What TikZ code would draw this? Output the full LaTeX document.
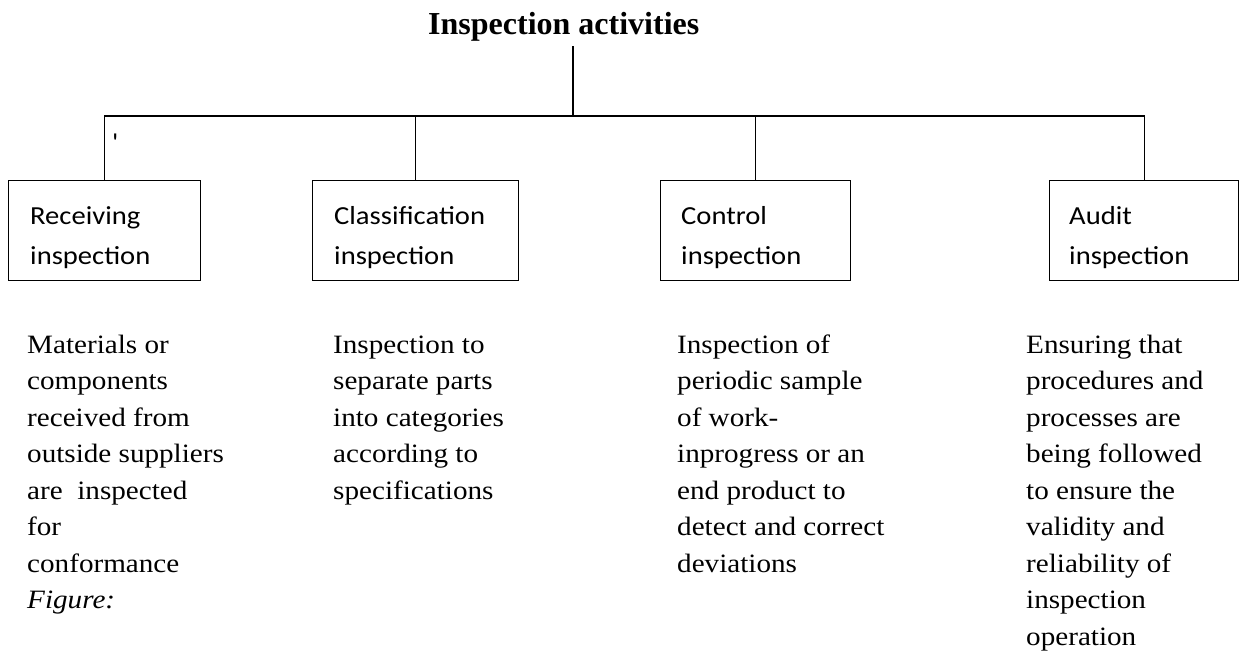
\documentclass[tikz,border=0pt]{standalone}
\usepackage{fontspec}
\usetikzlibrary{calc}
\setmainfont{Liberation Serif}
\newfontfamily\boxfont[FakeStretch=1.1]{Carlito}
\newfontfamily\descfont[FakeStretch=1.1]{Liberation Serif}

\begin{document}
\begin{tikzpicture}[x=1pt, y=-1pt,
  link/.style={line width=1.3pt, black},
  catbox/.style={draw, line width=1.3pt, inner sep=0pt, anchor=north west},
  boxtext/.style={font=\boxfont\fontsize{26}{40}\selectfont, align=left, inner sep=0pt, anchor=base west},
  desc/.style={font=\descfont\fontsize{26.5}{36.5}\selectfont, align=left, inner sep=0pt, anchor=base west},
  heading/.style={font=\fontsize{32}{38}\selectfont\bfseries, inner sep=0pt, anchor=base west}]
\useasboundingbox (0,0) rectangle (1242,652);
\fill[white] (0,0) rectangle (1242,652);

% heading
\node[heading] (title) at (428,35) {Inspection activities};
\coordinate (hub) at (573,116);

% the four kinds of inspection
\node[catbox, minimum width=192pt, minimum height=100pt] (b1) at (8,180) {};
\node[catbox, minimum width=206pt, minimum height=100pt] (b2) at (312,180) {};
\node[catbox, minimum width=190pt, minimum height=100pt] (b3) at (660,180) {};
\node[catbox, minimum width=189pt, minimum height=100pt] (b4) at (1049,180) {};

% multi-line text: the base anchor sits on the last line
\node[boxtext] (t1) at (30,265) {Receiving\\inspection};
\node[boxtext] (t2) at (334,265) {Classification\\inspection};
\node[boxtext] (t3) at (681,265) {Control\\inspection};
\node[boxtext] (t4) at (1069,265) {Audit\\inspection};

% stray tick under the left branch
\node[font=\boxfont\fontsize{26}{30}\selectfont, inner sep=0pt, anchor=base] (tick) at (115,152) {\textquotesingle};

% tree connectors
\draw[link] ($(hub |- title.south)+(0,4)$) -- (hub);
\draw[link] (b1.north) -- (b1.north |- hub) -- (b4.north |- hub) -- (b4.north);
\draw[link] (b2.north) -- (b2.north |- hub);
\draw[link] (b3.north) -- (b3.north |- hub);

% descriptions
\node[desc] (d1) at (27,608.5) {Materials or\\components\\received from\\outside suppliers\\are~ inspected\\for\\conformance\\\textit{Figure:}};
\node[desc] (d2) at (333,499) {Inspection to\\separate parts\\into categories\\according to\\specifications};
\node[desc] (d3) at (677,572) {Inspection of\\periodic sample\\of work-\\inprogress or an\\end product to\\detect and correct\\deviations};
\node[desc] (d4) at (1026,645) {Ensuring that\\procedures and\\processes are\\being followed\\to ensure the\\validity and\\reliability of\\inspection\\operation};
\end{tikzpicture}
\end{document}
